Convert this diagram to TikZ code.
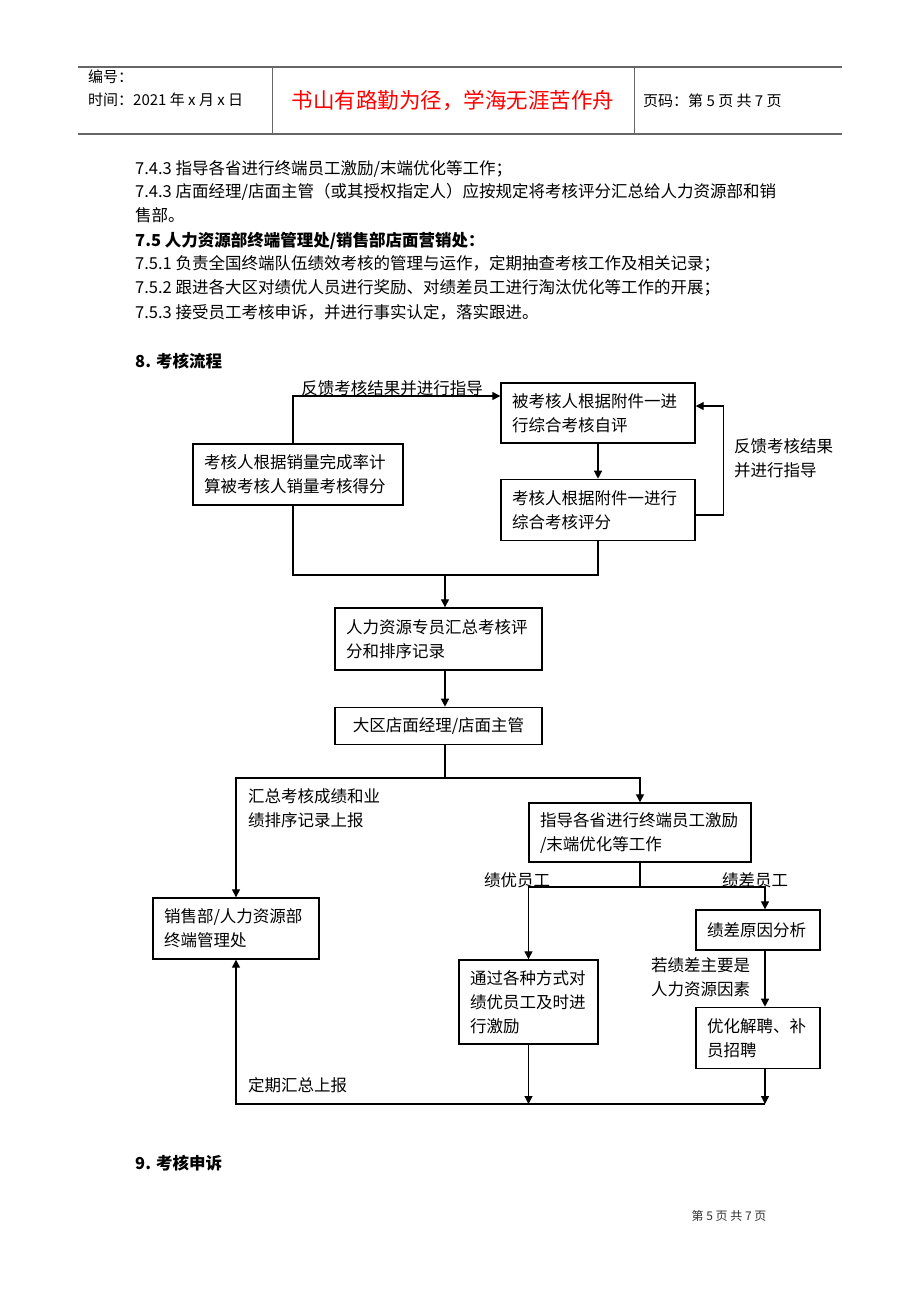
\documentclass[tikz,border=0pt]{standalone}
\usepackage{fontspec}
\newfontfamily\cjk{Noto Sans CJK SC}
\usetikzlibrary{positioning}
\usetikzlibrary{arrows.meta}

\begin{document}
\begin{tikzpicture}[x=1pt, y=-1pt,
    processBox/.style={draw, line width=1.4pt, inner xsep=11pt, inner ysep=0pt, align=left, font=\cjk\fontsize{16.5}{24}\selectfont},
    flowLine/.style={line width=1.3pt},
    flowArrow/.style={line width=1.3pt, -{Triangle[length=8pt, width=8pt]}},
    labelText/.style={inner sep=0pt, font=\cjk\fontsize{16.5}{24}\selectfont},
    bodyText/.style={anchor=west, inner sep=0pt, font=\cjk\fontsize{16.5}{24}\selectfont},
    headText/.style={anchor=west, inner sep=0pt, font=\cjk\fontsize{15}{18}\selectfont},
    headRule/.style={draw=black!60, line width=1.5pt},
  ]
    \useasboundingbox[fill=white] (0,0) rectangle (920,1302);

    % page header
    \draw[headRule] (78,67) -- (842,67);
    \draw[headRule] (78,134) -- (842,134);
    \draw[draw=black!60, line width=1pt] (272,67) -- (272,134);
    \draw[draw=black!60, line width=1pt] (634,67) -- (634,134);
    \node[headText] (docNo) at (88,77) {编号：};
    \node[headText] (docDate) at (88,100) {时间：2021 年 x 月 x 日};
    \node[inner sep=0pt, text=red, font=\cjk\fontsize{21.5}{24}\selectfont] (motto) at (453,101) {书山有路勤为径，学海无涯苦作舟};
    \node[headText] (pageNo) at (643,101) {页码：第 5 页 共 7 页};

    % text before the chart
    \node[bodyText] (line_0) at (135,169) {7.4.3 指导各省进行终端员工激励/末端优化等工作；};
    \node[bodyText] (line_1) at (135,192) {7.4.3 店面经理/店面主管（或其授权指定人）应按规定将考核评分汇总给人力资源部和销};
    \node[bodyText] (line_2) at (135,215) {售部。};
    \node[bodyText, font=\cjk\bfseries\fontsize{16.5}{24}\selectfont] (line_3) at (135,241) {7.5 人力资源部终端管理处/销售部店面营销处：};
    \node[bodyText] (line_4) at (135,264) {7.5.1 负责全国终端队伍绩效考核的管理与运作，定期抽查考核工作及相关记录；};
    \node[bodyText] (line_5) at (135,288) {7.5.2 跟进各大区对绩优人员进行奖励、对绩差员工进行淘汰优化等工作的开展；};
    \node[bodyText] (line_6) at (135,312) {7.5.3 接受员工考核申诉，并进行事实认定，落实跟进。};
    \node[bodyText, font=\cjk\bfseries\fontsize{16.5}{24}\selectfont] (sec_8) at (135,361) {8. 考核流程};

    % boxes
    \node[processBox, text width=172pt, minimum height=60pt] (selfEval) at (598,413) {被考核人根据附件一进\\行综合考核自评};
    \node[processBox, text width=188pt, minimum height=61pt] (salesScore) at (298,474.5) {考核人根据销量完成率计\\算被考核人销量考核得分};
    \node[processBox, text width=172pt, minimum height=61pt, below=35pt of selfEval] (evalScore) {考核人根据附件一进行\\综合考核评分};
    \node[processBox, text width=185pt, minimum height=62pt] (hrSummary) at (438.5,639) {人力资源专员汇总考核评\\分和排序记录};
    \node[processBox, text width=185pt, minimum height=37pt, align=center, below=36pt of hrSummary] (regionMgr) {大区店面经理/店面主管};
    \node[processBox, text width=200pt, minimum height=59pt] (guideWork) at (640,832.5) {指导各省进行终端员工激励\\/末端优化等工作};
    \node[processBox, text width=144pt, minimum height=61pt] (salesDept) at (236,928.5) {销售部/人力资源部\\终端管理处};
    \node[processBox, text width=117pt, minimum height=84pt] (reward) at (528.5,1002) {通过各种方式对\\绩优员工及时进\\行激励};
    \node[processBox, text width=102pt, minimum height=40pt] (causeAnalysis) at (758,930) {绩差原因分析};
    \node[processBox, text width=102pt, minimum height=61pt, below=56pt of causeAnalysis] (dismiss) {优化解聘、补\\员招聘};

    \coordinate (merge) at (445,575);
    \coordinate (split) at (445,778);
    \coordinate (split2) at (640,887);
    \coordinate (bottomRight) at (765,1104);

    % connectors
    \draw[flowArrow] ([xshift=-5pt]salesScore.north) |- ([yshift=17pt]selfEval.west);
    \draw[flowArrow] (selfEval.south) -- (evalScore.north);
    \draw[flowArrow] ([yshift=-5pt]evalScore.east) -- ++(28,0) |- ([yshift=7pt]selfEval.east);
    \draw[flowLine] ([xshift=-5pt]salesScore.south) |- (merge) -| (evalScore.south);
    \draw[flowArrow] (merge) -- (merge |- hrSummary.north);
    \draw[flowArrow] ([xshift=6.5pt]hrSummary.south) -- ([xshift=6.5pt]regionMgr.north);
    \draw[flowLine] ([xshift=6.5pt]regionMgr.south) -- (split);
    \draw[flowArrow] (split) -| (salesDept.north);
    \draw[flowArrow] (split) -| (guideWork.north);
    \draw[flowLine] (guideWork.south) -- (split2);
    \draw[flowArrow] (split2) -| (reward.north);
    \draw[flowArrow] (split2) -| ([xshift=7pt]causeAnalysis.north);
    \draw[flowArrow] ([xshift=7pt]causeAnalysis.south) -- ([xshift=7pt]dismiss.north);
    \draw[flowArrow] (reward.south) -- (reward.south |- bottomRight);
    \draw[flowArrow] ([xshift=7pt]dismiss.south) -- (bottomRight);
    \draw[flowArrow] (bottomRight) -| (salesDept.south);

    % connector labels
    \node[labelText] (feedbackTop) at (392,388) {反馈考核结果并进行指导};
    \node[labelText, anchor=north west, align=left] (feedbackRight) at (734,438) {反馈考核结果\\并进行指导};
    \node[labelText, anchor=north west, align=left] (reportLabel) at (248,788) {汇总考核成绩和业\\绩排序记录上报};
    \node[labelText] (goodLabel) at (517,880) {绩优员工};
    \node[labelText] (poorLabel) at (755,880) {绩差员工};
    \node[labelText, anchor=north west, align=left] (causeLabel) at (651,957) {若绩差主要是\\人力资源因素};
    \node[labelText, anchor=west] (periodLabel) at (248,1085) {定期汇总上报};

    % text after the chart
    \node[bodyText, font=\cjk\bfseries\fontsize{16.5}{24}\selectfont] (sec_9) at (135,1163) {9. 考核申诉};
    \node[inner sep=0pt, text=black!80, font=\cjk\fontsize{12}{14}\selectfont] (footer) at (729,1216) {第 5 页 共 7 页};
\end{tikzpicture}
\end{document}
